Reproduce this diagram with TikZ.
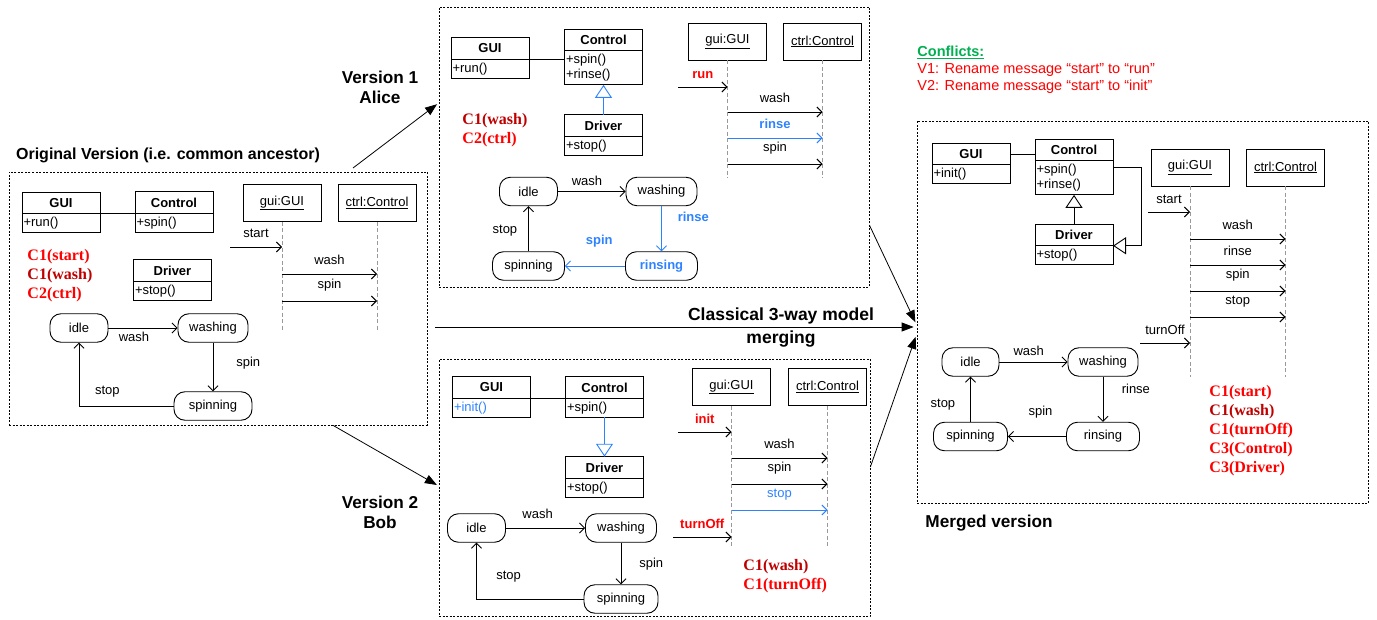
\documentclass[tikz,border=0pt]{standalone}
\usepackage{fontspec}
\setmainfont{Liberation Sans}
\newfontfamily\tmsfont{Liberation Serif}
\usetikzlibrary{arrows.meta, positioning}

\definecolor{chgblue}{RGB}{45,130,255}
\definecolor{cred}{RGB}{255,0,0}
\definecolor{dred}{RGB}{190,0,0}
\definecolor{cgreen}{RGB}{0,176,80}

\newcommand{\nf}{\fontsize{13}{15}\selectfont}
\newcommand{\tf}{\fontsize{17.2}{20}\selectfont\bfseries}
\newcommand{\tfl}{\fontsize{17.5}{23}\selectfont\bfseries}
\newcommand{\cf}{\fontsize{16}{19}\selectfont\tmsfont\bfseries}

\tikzset{
  vframe/.style={draw, dash pattern=on 2pt off 1.5pt, line width=0.7pt, inner sep=0pt},
  chead/.style={draw, minimum width=78, minimum height=21.5, inner sep=0pt, outer sep=0pt, font=\nf\bfseries},
  cbody/.style={draw, text width=75, align=left, inner xsep=1.5pt, inner ysep=3.5pt, outer sep=0pt, minimum height=18, font=\nf},
  obj/.style={draw, minimum width=78, minimum height=37, inner sep=0pt, font=\nf},
  stt/.style={draw, rounded corners=11pt, minimum height=28.5, minimum width=#1, inner sep=0pt, font=\nf},
  life/.style={dash pattern=on 4pt off 2.5pt, gray!80},
  msg/.style={-{Straight Barb[length=5pt, width=10pt]}},
  gen/.style={-{Triangle[open, length=13pt, width=17pt]}},
  bigarr/.style={-{Triangle[length=12pt, width=9pt]}, line width=0.8pt},
}

\begin{document}
\begin{tikzpicture}[x=1pt, y=-1pt, line width=0.9pt, font=\nf]
\useasboundingbox (0,0) rectangle (1377,620);

% frames of the four versions
\node[vframe, minimum width=418, minimum height=253] (orig) at (218,298.5) {};
\node[vframe, minimum width=430, minimum height=280] (v1) at (654,147) {};
\node[vframe, minimum width=431, minimum height=257] (v2) at (654.5,488) {};
\node[vframe, minimum width=451, minimum height=382] (merged) at (1142.5,312) {};

% titles
\node[font=\fontsize{16}{20}\selectfont\bfseries] (t0) at (168,155) {Original Version (i.e. common ancestor)};
\node[font=\tf, align=center] (t1) at (380,87) {Version 1\\Alice};
\node[font=\tf, align=center] (t2) at (380,512) {Version 2\\Bob};
\node[font=\tfl, align=center] (t3) at (781,327.5) {Classical 3-way model\\merging};
\node[font=\tf] (t4) at (989,523) {Merged version};

% version arrows
\coordinate (o1) at (353,168);
\coordinate (hs) at (435,327);
\draw[bigarr, shorten >=2pt] (o1) -- (v1.west |- 0,103);
\draw[bigarr, shorten >=2pt] (orig.south -| 333,0) -- (v2.west |- 0,486);
\draw[bigarr, shorten >=3pt] (hs) -- (merged.west |- hs);
\draw[bigarr, shorten >=3pt] (v1.east |- 0,225) -- (merged.west |- 0,325);
\draw[bigarr, shorten >=3pt] (v2.east |- 0,467) -- (merged.west |- 0,334);

% ---- original version
\node[chead] (gui0) at (61,203) {GUI};
\node[cbody, below=0pt of gui0] (gui0m) {+run()};
\node[chead] (ctrl0) at (174,202.5) {Control};
\node[cbody, below=0pt of ctrl0] (ctrl0m) {+spin()};
\node[chead] (drv0) at (172.5,270.5) {Driver};
\node[cbody, below=0pt of drv0] (drv0m) {+stop()};
\draw (gui0.south east) -- (ctrl0.west |- gui0.south east);

\node[obj] (gui0o) at (282,203) {\underline{gui:GUI}};
\node[obj] (ctrl0o) at (377,203) {\underline{ctrl:Control}};
\draw[life] (gui0o.south) -- ++(0,108);
\draw[life] (ctrl0o.south) -- ++(0,108);
\coordinate (in0) at (230,247);
\draw[msg] (in0) -- node[above=5.5pt]{start} (gui0o.south |- in0);
\draw[msg] (gui0o.south |- 0,274) -- node[above=6pt]{wash} (ctrl0o.south |- 0,274);
\draw[msg] (gui0o.south |- 0,301) -- node[above=6pt]{spin} (ctrl0o.south |- 0,301);

\node[anchor=west, align=left, inner sep=0pt, font=\cf] (cf0) at (27,276) {\textcolor{cred}{C1(start)}\\\textcolor{dred}{C1(wash)}\\\textcolor{cred}{C2(ctrl)}};

\node[stt=58] (idle0) at (79,328) {idle};
\node[stt=70] (wash0) at (213,328) {washing};
\node[stt=78] (spin0) at (213,406) {spinning};
\draw[msg] (idle0) -- node[pos=0.37, below=0pt]{wash} (wash0);
\draw[msg] (wash0) -- node[pos=0.43, right=19.5pt]{spin} (spin0);
\draw[msg] (spin0) -| node[pos=0.35, above=5.5pt]{stop} (idle0);

% ---- version 1 (Alice)
\node[chead] (gui1) at (490,48.5) {GUI};
\node[cbody, below=0pt of gui1] (gui1m) {+run()};
\node[chead] (ctrl1) at (603.5,40) {Control};
\node[cbody, below=0pt of ctrl1] (ctrl1m) {+spin()\\+rinse()};
\node[chead] (drv1) at (603.5,125.5) {Driver};
\node[cbody, below=0pt of drv1] (drv1m) {+stop()};
\draw (gui1.south east) -- (ctrl1.west |- gui1.south east);
\draw[gen, chgblue] (drv1.north) -- (ctrl1m.south);

\node[obj] (gui1o) at (727.5,41.5) {\underline{gui:GUI}};
\node[obj] (ctrl1o) at (822.5,41.5) {\underline{ctrl:Control}};
\draw[life] (gui1o.south) -- ++(0,118);
\draw[life] (ctrl1o.south) -- ++(0,118);
\coordinate (in1) at (678,87);
\draw[msg] (in1) -- node[above=5pt, text=cred, font=\nf\bfseries]{run} (gui1o.south |- in1);
\draw[msg] (gui1o.south |- 0,112) -- node[above=6pt]{wash} (ctrl1o.south |- 0,112);
\draw[msg, chgblue] (gui1o.south |- 0,138) -- node[above=6pt, font=\nf\bfseries]{rinse} (ctrl1o.south |- 0,138);
\draw[msg] (gui1o.south |- 0,164) -- node[above=6pt]{spin} (ctrl1o.south |- 0,164);

\node[anchor=west, align=left, inner sep=0pt, font=\cf] (cf1) at (462,130.5) {\textcolor{dred}{C1(wash)}\\\textcolor{cred}{C2(ctrl)}};

\node[stt=58] (idle1) at (528.5,191.5) {idle};
\node[stt=71] (wash1) at (661.5,191.5) {washing};
\node[stt=72] (rins1) at (661.5,266) {\textcolor{chgblue}{\bfseries rinsing}};
\node[stt=72] (spin1) at (528.5,266) {spinning};
\draw[msg] (idle1) -- node[pos=0.43, above=2.5pt]{wash} (wash1);
\draw[msg, chgblue] (wash1) -- node[pos=0.24, right=12.5pt, font=\nf\bfseries]{rinse} (rins1);
\draw[msg, chgblue] (rins1) -- node[pos=0.43, above=15.5pt, font=\nf\bfseries]{spin} (spin1);
\draw[msg] (spin1) -- node[pos=0.46, left=7.5pt]{stop} (idle1);

% ---- version 2 (Bob)
\node[chead] (gui2) at (491.5,387.5) {GUI};
\node[cbody, below=0pt of gui2, text=chgblue] (gui2m) {+init()};
\node[chead] (ctrl2) at (604.5,387.5) {Control};
\node[cbody, below=0pt of ctrl2] (ctrl2m) {+spin()};
\node[chead] (drv2) at (604.5,467.5) {Driver};
\node[cbody, below=0pt of drv2] (drv2m) {+stop()};
\draw (gui2.south east) -- (ctrl2.south west);
\draw[gen, chgblue] (ctrl2m.south) -- (drv2.north);

\node[obj] (gui2o) at (731.5,387) {\underline{gui:GUI}};
\node[obj] (ctrl2o) at (827.5,387) {\underline{ctrl:Control}};
\draw[life] (gui2o.south) -- ++(0,140);
\draw[life] (ctrl2o.south) -- ++(0,140);
\coordinate (in2) at (678,432);
\coordinate (off2) at (673,537);
\draw[msg] (in2) -- node[above=5pt, text=cred, font=\nf\bfseries]{init} (gui2o.south |- in2);
\draw[msg] (gui2o.south |- 0,458) -- node[above=6pt]{wash} (ctrl2o.south |- 0,458);
\draw[msg] (gui2o.south |- 0,484) -- node[above=6pt]{spin} (ctrl2o.south |- 0,484);
\draw[msg, chgblue] (gui2o.south |- 0,510) -- node[above=6pt]{stop} (ctrl2o.south |- 0,510);
\draw[msg] (off2) -- node[above=5pt, text=cred, font=\nf\bfseries]{turnOff} (gui2o.south |- off2);

\node[anchor=west, align=left, inner sep=0pt, font=\cf] (cf2) at (743,576) {\textcolor{dred}{C1(wash)}\\\textcolor{cred}{C1(turnOff)}};

\node[stt=58] (idle2) at (476.5,528) {idle};
\node[stt=71] (wash2) at (621,528) {washing};
\node[stt=74] (spin2) at (621,599) {spinning};
\draw[msg] (idle2) -- node[pos=0.4, above=5.5pt]{wash} (wash2);
\draw[msg] (wash2) -- node[pos=0.51, right=14.5pt]{spin} (spin2);
\draw[msg] (spin2) -| node[pos=0.35, above=13.5pt]{stop} (idle2);

% ---- merged version
\node[anchor=north west, align=left, inner sep=0pt, font=\fontsize{14.5}{17}\selectfont] (conf) at (917,46) {\textcolor{cgreen}{\bfseries\underline{Conflicts:}}\\\textcolor{cred}{V1: Rename message “start” to “run”}\\\textcolor{cred}{V2: Rename message “start” to “init”}};

\node[chead] (gui3) at (971,154) {GUI};
\node[cbody, below=0pt of gui3] (gui3m) {+init()};
\node[chead] (ctrl3) at (1074,150) {Control};
\node[cbody, below=0pt of ctrl3] (ctrl3m) {+spin()\\+rinse()};
\node[chead] (drv3) at (1074,235) {Driver};
\node[cbody, below=0pt of drv3] (drv3m) {+stop()};
\draw (gui3.east) -- (ctrl3.west |- gui3.east);
\draw[gen] (drv3.north) -- (ctrl3m.south);
\draw[gen] (ctrl3m.east |- 0,167) -- ++(28,0) |- (drv3.south east);

\node[obj] (gui3o) at (1190,167.5) {\underline{gui:GUI}};
\node[obj] (ctrl3o) at (1285.5,167.5) {\underline{ctrl:Control}};
\draw[life] (gui3o.south) -- ++(0,191);
\draw[life] (ctrl3o.south) -- ++(0,191);
\coordinate (in3) at (1148,212);
\coordinate (off3) at (1140,343);
\draw[msg] (in3) -- node[above=5pt]{start} (gui3o.south |- in3);
\foreach \y/\m in {239/wash, 265/rinse, 291/spin, 317/stop}
  \draw[msg] (gui3o.south |- 0,\y) -- node[above=6pt]{\m} (ctrl3o.south |- 0,\y);
\draw[msg] (off3) -- node[above=5pt]{turnOff} (gui3o.south |- off3);

\node[anchor=west, align=left, inner sep=0pt, font=\cf] (cf3) at (1209,430.5) {\textcolor{cred}{C1(start)}\\\textcolor{dred}{C1(wash)}\\\textcolor{cred}{C1(turnOff)}\\\textcolor{cred}{C3(Control)}\\\textcolor{cred}{C3(Driver)}};

\node[stt=57] (idle3) at (970.5,362) {idle};
\node[stt=70] (wash3) at (1103,362) {washing};
\node[stt=73] (rins3) at (1103,436.5) {rinsing};
\node[stt=74] (spin3) at (970.5,436.5) {spinning};
\draw[msg] (idle3) -- node[pos=0.43, above=2.5pt]{wash} (wash3);
\draw[msg] (wash3) -- node[pos=0.28, right=15pt]{rinse} (rins3);
\draw[msg] (rins3) -- node[pos=0.44, above=15pt]{spin} (spin3);
\draw[msg] (spin3) -- node[pos=0.39, left=11.5pt]{stop} (idle3);
\end{tikzpicture}
\end{document}
